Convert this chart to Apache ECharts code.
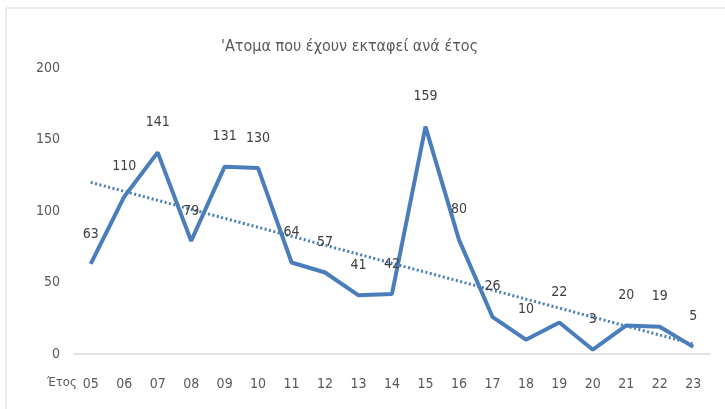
<!DOCTYPE html>
<html>
<head>
<meta charset="utf-8">
<script src="https://cdn.jsdelivr.net/npm/echarts@6/dist/echarts.min.js"></script>
<style>
  html, body { margin: 0; padding: 0; background: #fff; }
  #main { width: 725px; height: 409px; }
</style>
</head>
<body>
<div id="main"></div>
<script>
// δεδομένα
var years = ["05","06","07","08","09","10","11","12","13","14","15","16","17","18","19","20","21","22","23"];
var values = [63,110,141,79,131,130,64,57,41,42,159,80,26,10,22,3,20,19,5];
// γραμμή τάσης: αρχή (05) και τέλος (23), όπως διαβάζονται από την εικόνα
var trendEnds = [120, 7];
var yTicks = [0, 50, 100, 150, 200];

var trendData = years.map(function (y, i) {
  if (i === 0) return trendEnds[0];
  if (i === years.length - 1) return trendEnds[1];
  return null;
});

var font = "'DejaVu Sans Condensed', 'Liberation Sans Narrow', 'Open Sans', sans-serif";
var blue = "#4a7ebb";

var chart = echarts.init(document.getElementById("main"));
chart.setOption({
  backgroundColor: "#ffffff",
  animation: false,
  textStyle: { fontFamily: font },
  title: {
    text: "'Ατομα που έχουν εκταφεί ανά έτος",
    left: 216,
    top: 34,
    textStyle: { fontFamily: font, fontSize: 16, fontWeight: "normal", color: "#595959" }
  },
  graphic: [
    {
      type: "rect",
      shape: { x: 6, y: 8, width: 760, height: 440 },
      style: { fill: "none", stroke: "#d9d9d9", lineWidth: 1 },
      silent: true
    },
    {
      type: "text",
      left: 47,
      top: 376,
      style: { text: "Έτος", font: "13px " + font, fill: "#595959" }
    }
  ],
  grid: { left: 74, right: 15, top: 68, bottom: 55 },
  xAxis: {
    type: "category",
    data: years,
    boundaryGap: true,
    axisLine: { lineStyle: { color: "#d9d9d9", width: 1.5 } },
    axisTick: { show: false },
    axisLabel: { color: "#595959", fontSize: 14, fontFamily: font, margin: 23 }
  },
  yAxis: {
    type: "value",
    min: yTicks[0],
    max: yTicks[yTicks.length - 1],
    interval: 50,
    splitLine: { show: false },
    axisLine: { show: false },
    axisTick: { show: false },
    axisLabel: { color: "#595959", fontSize: 14, fontFamily: font, margin: 14 }
  },
  series: [
    {
      type: "line",
      data: values,
      symbol: "circle",
      symbolSize: 0,
      showAllSymbol: true,
      lineStyle: { color: blue, width: 4 },
      itemStyle: { color: blue },
      label: {
        show: true,
        position: "top",
        distance: 23,
        color: "#404040",
        fontSize: 14,
        fontFamily: font
      },
      z: 3
    },
    {
      type: "line",
      data: trendData,
      connectNulls: true,
      symbol: "none",
      lineStyle: { color: blue, width: 3, type: [2, 2.5] },
      z: 2
    }
  ]
});
</script>
</body>
</html>
